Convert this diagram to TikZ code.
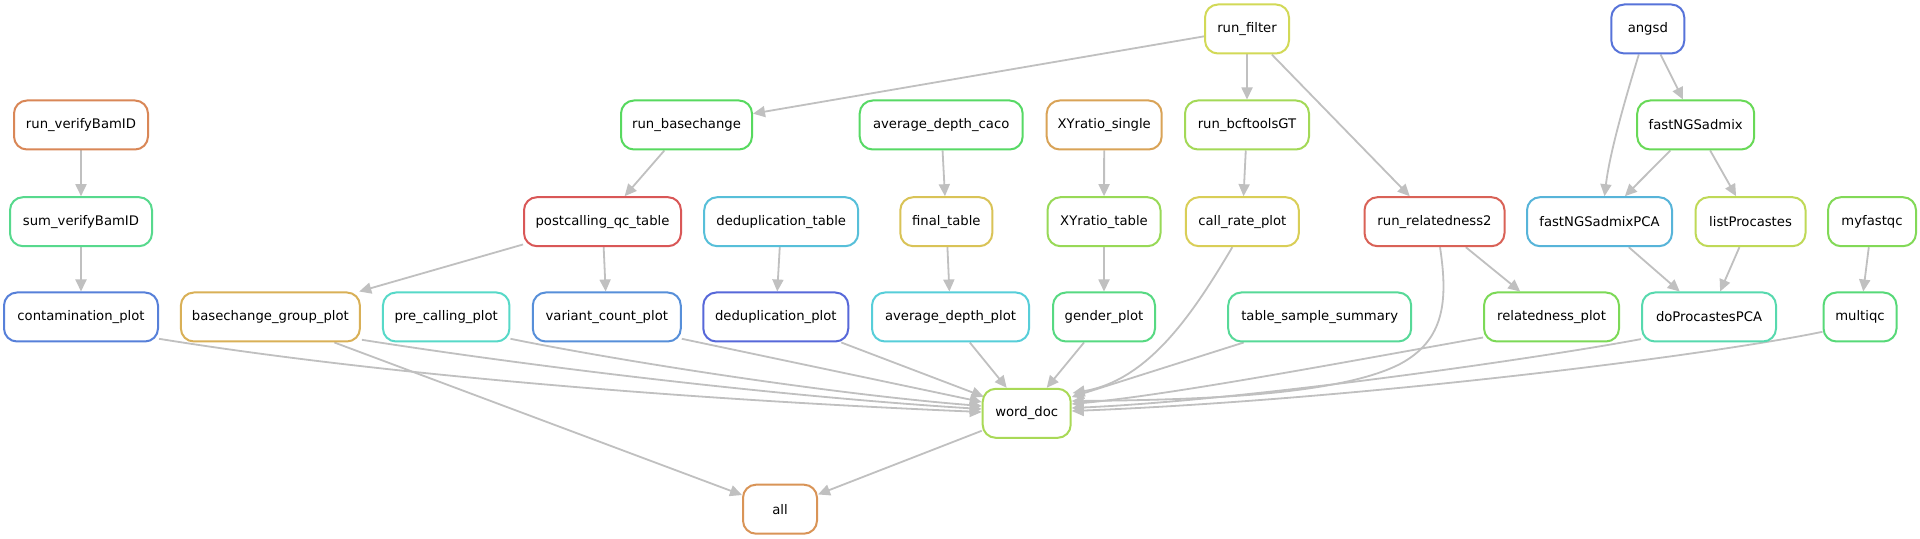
\documentclass[tikz,border=0pt]{standalone}
\usepackage{fontspec}
\setmainfont{DejaVu Sans}
\usetikzlibrary{arrows.meta,calc,backgrounds}
\definecolor{eg}{HTML}{C0C0C0}
\definecolor{cRunVerify}{HTML}{D98757}
\definecolor{cSumVerify}{HTML}{57D98D}
\definecolor{cContam}{HTML}{5780D9}
\definecolor{cBaseGroup}{HTML}{D9B057}
\definecolor{cPreCall}{HTML}{57D9C8}
\definecolor{cVariant}{HTML}{578FD9}
\definecolor{cPostQC}{HTML}{D95757}
\definecolor{cRunBase}{HTML}{57D95F}
\definecolor{cDedupT}{HTML}{57BFD9}
\definecolor{cDedupP}{HTML}{5768D9}
\definecolor{cAvgCaco}{HTML}{57D965}
\definecolor{cFinal}{HTML}{D9C357}
\definecolor{cAvgPlot}{HTML}{57CED9}
\definecolor{cXYs}{HTML}{D9A357}
\definecolor{cXYt}{HTML}{98D957}
\definecolor{cGender}{HTML}{57D982}
\definecolor{cRunFilter}{HTML}{D2D957}
\definecolor{cBcf}{HTML}{A3D957}
\definecolor{cCallRate}{HTML}{D9CE57}
\definecolor{cTableSum}{HTML}{57D998}
\definecolor{cRunRel}{HTML}{D96257}
\definecolor{cRelPlot}{HTML}{7CD957}
\definecolor{cAngsd}{HTML}{5773D9}
\definecolor{cFastNGS}{HTML}{68D957}
\definecolor{cFastPCA}{HTML}{57B4D9}
\definecolor{cListPro}{HTML}{BFD957}
\definecolor{cDoPro}{HTML}{57D9AE}
\definecolor{cMyFastqc}{HTML}{82D957}
\definecolor{cMultiqc}{HTML}{57D978}
\definecolor{cWord}{HTML}{A9D957}
\definecolor{cAll}{HTML}{D99457}
\begin{document}
\begin{tikzpicture}[x=0.5pt,y=-0.5pt,
  job/.style={draw=#1,line width=1pt,rounded corners=6.5pt,minimum height=24.5pt,
    inner sep=0pt,fill=white,font=\fontsize{6.6}{8}\selectfont},
  e/.style={draw=eg,line width=0.9pt,-{Triangle[length=6pt,width=5.5pt]}}]
\useasboundingbox (0,0) rectangle (1920,539);
% row 0
\node[job=cRunFilter,minimum width=42pt] (runFilter) at (1247,29) {run\_filter};
\node[job=cAngsd,minimum width=36.5pt] (angsd) at (1647.8,29) {angsd};
% row 1
\node[job=cRunVerify,minimum width=67pt] (runVerifyBamID) at (81,125) {run\_verifyBamID};
\node[job=cRunBase,minimum width=65.5pt] (runBasechange) at (686.5,125) {run\_basechange};
\node[job=cAvgCaco,minimum width=81.5pt] (avgDepthCaco) at (941.2,125) {average\_depth\_caco};
\node[job=cXYs,minimum width=57.5pt] (XYsingle) at (1104.2,125) {XYratio\_single};
\node[job=cBcf,minimum width=62pt] (runBcftoolsGT) at (1247,125) {run\_bcftoolsGT};
\node[job=cFastNGS,minimum width=58.5pt] (fastNGSadmix) at (1695.7,125) {fastNGSadmix};
% row 2
\node[job=cSumVerify,minimum width=71pt] (sumVerifyBamID) at (81,221.7) {sum\_verifyBamID};
\node[job=cPostQC,minimum width=78.5pt] (postcallingQC) at (602.5,221.7) {postcalling\_qc\_table};
\node[job=cDedupT,minimum width=77pt] (dedupTable) at (781.2,221.7) {deduplication\_table};
\node[job=cFinal,minimum width=46pt] (finalTable) at (946.3,221.7) {final\_table};
\node[job=cXYt,minimum width=56.5pt] (XYtable) at (1104,221.7) {XYratio\_table};
\node[job=cCallRate,minimum width=56.5pt] (callRatePlot) at (1242.3,221.7) {call\_rate\_plot};
\node[job=cRunRel,minimum width=70pt] (runRelatedness) at (1434.5,221.7) {run\_relatedness2};
\node[job=cFastPCA,minimum width=72.5pt] (fastNGSadmixPCA) at (1599.5,221.7) {fastNGSadmixPCA};
\node[job=cListPro,minimum width=55pt] (listProcastes) at (1750.5,221.7) {listProcastes};
\node[job=cMyFastqc,minimum width=44pt] (myfastqc) at (1872,221.7) {myfastqc};
% row 3
\node[job=cContam,minimum width=77pt] (contaminationPlot) at (81,317) {contamination\_plot};
\node[job=cBaseGroup,minimum width=89.5pt] (basechangeGroup) at (270.4,317) {basechange\_group\_plot};
\node[job=cPreCall,minimum width=63.25pt] (preCalling) at (446.2,317) {pre\_calling\_plot};
\node[job=cVariant,minimum width=74pt] (variantCount) at (606.8,317) {variant\_count\_plot};
\node[job=cDedupP,minimum width=72.5pt] (dedupPlot) at (775.8,317) {deduplication\_plot};
\node[job=cAvgPlot,minimum width=78.5pt] (avgDepthPlot) at (950.5,317) {average\_depth\_plot};
\node[job=cGender,minimum width=51pt] (genderPlot) at (1104,317) {gender\_plot};
\node[job=cTableSum,minimum width=91.5pt] (tableSample) at (1319.7,317) {table\_sample\_summary};
\node[job=cRelPlot,minimum width=67.5pt] (relatednessPlot) at (1551.5,317) {relatedness\_plot};
\node[job=cDoPro,minimum width=67pt] (doProcastes) at (1709,317) {doProcastesPCA};
\node[job=cMultiqc,minimum width=36.5pt] (multiqc) at (1860,317) {multiqc};
% row 4, 5
\node[job=cWord,minimum width=44pt] (wordDoc) at (1026.7,413.3) {word\_doc};
\node[job=cAll,minimum width=37pt] (all) at (780,509.2) {all};

\begin{scope}[on background layer]
\fill[white] (0,0) rectangle (1920,539);
\draw[e] (runVerifyBamID) -- (sumVerifyBamID);
\draw[e] (sumVerifyBamID) -- (contaminationPlot);
\draw[e] (runFilter) -- (runBasechange);
\draw[e] (runFilter) -- (runBcftoolsGT);
\draw[e] (runFilter) -- (runRelatedness);
\draw[e] (angsd) -- (fastNGSadmix);
\draw[e] ($(angsd.south)+(-9,0)$) .. controls (1628,90) and (1610,150) .. ($(fastNGSadmixPCA.north)+(5,0)$);
\draw[e] (fastNGSadmix) -- (fastNGSadmixPCA);
\draw[e] (fastNGSadmix) -- (listProcastes);
\draw[e] (fastNGSadmixPCA) -- (doProcastes);
\draw[e] (listProcastes) -- (doProcastes);
\draw[e] (myfastqc) -- (multiqc);
\draw[e] (runRelatedness) -- (relatednessPlot);
\draw[e] (runBasechange) -- (postcallingQC);
\draw[e] (postcallingQC) -- (basechangeGroup);
\draw[e] (postcallingQC) -- (variantCount);
\draw[e] (dedupTable) -- (dedupPlot);
\draw[e] (avgDepthCaco) -- (finalTable);
\draw[e] (finalTable) -- (avgDepthPlot);
\draw[e] (XYsingle) -- (XYtable);
\draw[e] (XYtable) -- (genderPlot);
\draw[e] (runBcftoolsGT) -- (callRatePlot);
% into word_doc
\draw[e] ($(contaminationPlot.south east)+(0,-3.7)$) .. controls (408,379) and (733,401.5) .. ($(wordDoc.west)+(0,-1.3)$);
\draw[e] ($(basechangeGroup.south east)+(1,-2.7)$) .. controls (561,371) and (803,398) .. ($(wordDoc.west)+(0,-4.3)$);
\draw[e] ($(preCalling.south east)+(0,-3.7)$) .. controls (620,361) and (830,394) .. ($(wordDoc.west)+(0,-7.3)$);
\draw[e] ($(variantCount.south east)+(0,-3.7)$) -- ($(wordDoc.west)+(0,-11.3)$);
\draw[e] ($(dedupPlot.south east)+(-8,0)$) -- ($(wordDoc.west)+(2,-16.6)$);
\draw[e] ($(avgDepthPlot.south)+(19.3,0)$) -- ($(wordDoc.north)+(-20,0)$);
\draw[e] ($(genderPlot.south)+(-20,0)$) -- ($(wordDoc.north)+(20,0)$);
\draw[e] ($(tableSample.south west)+(16.5,0)$) -- ($(wordDoc.east)+(0,-16.3)$);
\draw[e] ($(relatednessPlot.south west)+(0,-5)$) .. controls (1334,364) and (1170,395) .. ($(wordDoc.east)+(0,-9.3)$);
\draw[e] ($(doProcastes.south west)+(0,-3.4)$) .. controls (1540,358) and (1250,400) .. ($(wordDoc.east)+(0,-5.3)$);
\draw[e] ($(multiqc.south west)+(0,-10.7)$) .. controls (1700,357) and (1350,400) .. ($(wordDoc.east)+(0,-2.3)$);
\draw[e] ($(callRatePlot.south)+(-10,0)$) .. controls (1195,310) and (1150,380) .. ($(wordDoc.east)+(1,-20.3)$);
\draw[e] ($(runRelatedness.south)+(5.5,0)$) .. controls (1448,300) and (1445,340) .. (1400,364)
   .. controls (1340,395) and (1200,400) .. ($(wordDoc.east)+(0,-12.3)$);
% into all
\draw[e] ($(basechangeGroup.south)+(64,0)$) -- (all);
\draw[e] (wordDoc) -- (all);
\end{scope}
\end{tikzpicture}
\end{document}
